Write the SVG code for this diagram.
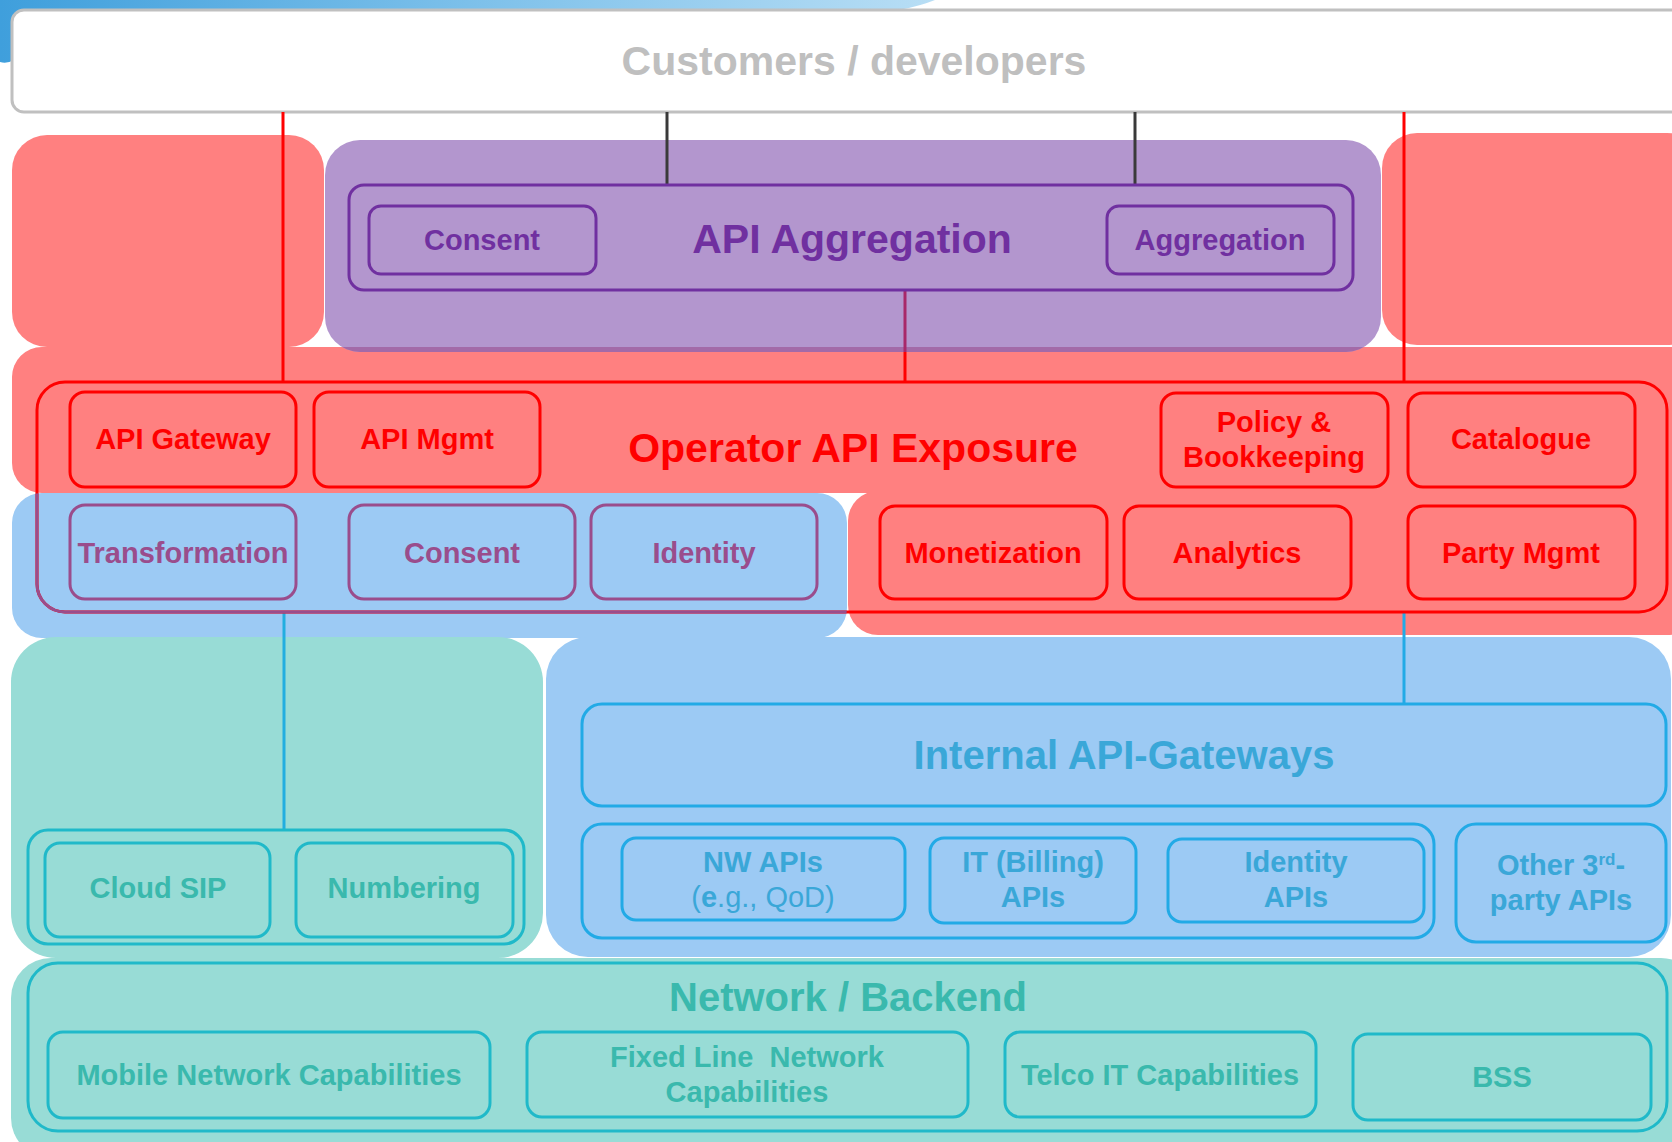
<svg xmlns="http://www.w3.org/2000/svg" width="1672" height="1142" viewBox="0 0 1672 1142">
<defs>
<linearGradient id="glow" x1="0" y1="0" x2="1" y2="0">
<stop offset="0" stop-color="#3f9fdc"/>
<stop offset="0.5" stop-color="#7cc0ea"/>
<stop offset="1" stop-color="#b8def5"/>
</linearGradient>
<clipPath id="blueArea"><rect x="12" y="493" width="835" height="145" rx="30"/></clipPath>
<clipPath id="purpleArea"><rect x="325" y="140" width="1056" height="212" rx="35"/></clipPath>
<style>
text{font-family:"Liberation Sans",Arial,sans-serif;font-weight:bold;text-anchor:middle}
.lbl{font-size:29px}
.title{font-size:41px}
.bg-red{fill:#ff8080}
.bg-purple{fill:#b396ce}
.bg-blue{fill:#9ccaf4}
.bg-teal{fill:#98dcd6}
.box{fill:none;stroke-width:3}
.red{stroke:#ff0000}
.tred{fill:#ff0000}
.pur{stroke:#7030a0}
.tpur{fill:#7030a0}
.mauve{stroke:#9a4d8c}
.tmauve{fill:#9a4d8c}
.teal{stroke:#20b9c9}
.tteal{fill:#3ab9ad}
.blue{stroke:#22aae6}
.tblue{fill:#3aa7d8}
</style>
</defs>

<g id="backgrounds">
<path d="M0 0 H935 Q905 12 860 14 H14 V60 Q7 64 0 62 Z" fill="url(#glow)"/>
<rect class="bg-red" x="12" y="135" width="312" height="212" rx="35"/>
<rect class="bg-red" x="1382" y="133" width="320" height="212" rx="35"/>
<rect class="bg-red" x="12" y="347" width="1690" height="146" rx="30"/>
<rect class="bg-purple" x="325" y="140" width="1056" height="212" rx="35"/>
<rect x="325" y="347" width="1056" height="6" fill="#a36aa8" clip-path="url(#purpleArea)"/>
<rect class="bg-red" x="848" y="491" width="850" height="144" rx="30"/>
<rect class="bg-blue" x="12" y="493" width="835" height="145" rx="30"/>
<rect class="bg-teal" x="11" y="637" width="532" height="321" rx="45"/>
<rect class="bg-blue" x="546" y="637" width="1125" height="320" rx="42"/>
<rect class="bg-teal" x="11" y="958" width="1690" height="200" rx="40"/>
</g>

<g id="customers">
<rect x="12" y="10" width="1700" height="102" rx="12" fill="#ffffff" stroke="#c0c0c0" stroke-width="3"/>
<text x="854" y="75" style="font-size:41px" fill="#bfbfbf">Customers / developers</text>
</g>

<g id="connectors" fill="none" stroke-width="3">
<line x1="283" y1="112" x2="283" y2="382" stroke="#ff0000"/>
<line x1="1404" y1="112" x2="1404" y2="382" stroke="#ff0000"/>
<line x1="667" y1="112" x2="667" y2="185" stroke="#3a3a3a"/>
<line x1="1135" y1="112" x2="1135" y2="185" stroke="#3a3a3a"/>
<line x1="905" y1="290" x2="905" y2="352" stroke="#a8286a"/>
<line x1="905" y1="352" x2="905" y2="382" stroke="#ff0000"/>
<line x1="284" y1="612" x2="284" y2="830" stroke="#22aee0"/>
<line x1="1404" y1="612" x2="1404" y2="704" stroke="#22aae6"/>
</g>

<g id="api-aggregation">
<rect class="box pur" x="349" y="185" width="1004" height="105" rx="15" stroke-width="3.5"/>
<text class="title tpur" x="852" y="253">API Aggregation</text>
</g>
<g id="agg-consent">
<rect class="box pur" x="369" y="206" width="227" height="68" rx="12"/>
<text class="lbl tpur" x="482" y="250">Consent</text>
</g>
<g id="agg-aggregation">
<rect class="box pur" x="1107" y="206" width="227" height="68" rx="12"/>
<text class="lbl tpur" x="1220" y="250">Aggregation</text>
</g>

<g id="operator-api-exposure">
<rect class="box red" x="37" y="382" width="1630" height="230" rx="28" stroke-width="3.5"/>
<rect class="box mauve" x="37" y="382" width="1630" height="230" rx="28" stroke-width="3.5" clip-path="url(#blueArea)"/>
<text class="title tred" x="853" y="462">Operator API Exposure</text>
</g>
<g id="api-gateway">
<rect class="box red" x="70" y="392" width="226" height="95" rx="15"/>
<text class="lbl tred" x="183" y="449">API Gateway</text>
</g>
<g id="api-mgmt">
<rect class="box red" x="314" y="392" width="226" height="95" rx="15"/>
<text class="lbl tred" x="427" y="449">API Mgmt</text>
</g>
<g id="policy">
<rect class="box red" x="1161" y="393" width="227" height="94" rx="15"/>
<text class="lbl tred" x="1274" y="432">Policy &amp;</text>
<text class="lbl tred" x="1274" y="467">Bookkeeping</text>
</g>
<g id="catalogue">
<rect class="box red" x="1408" y="393" width="227" height="94" rx="15"/>
<text class="lbl tred" x="1521" y="449">Catalogue</text>
</g>
<g id="transformation">
<rect class="box mauve" x="70" y="505" width="226" height="94" rx="15"/>
<text class="lbl tmauve" x="183" y="563">Transformation</text>
</g>
<g id="op-consent">
<rect class="box mauve" x="349" y="505" width="226" height="94" rx="15"/>
<text class="lbl tmauve" x="462" y="563">Consent</text>
</g>
<g id="identity">
<rect class="box mauve" x="591" y="505" width="226" height="94" rx="15"/>
<text class="lbl tmauve" x="704" y="563">Identity</text>
</g>
<g id="monetization">
<rect class="box red" x="880" y="506" width="227" height="93" rx="15"/>
<text class="lbl tred" x="993" y="563">Monetization</text>
</g>
<g id="analytics">
<rect class="box red" x="1124" y="506" width="227" height="93" rx="15"/>
<text class="lbl tred" x="1237" y="563">Analytics</text>
</g>
<g id="party-mgmt">
<rect class="box red" x="1408" y="506" width="227" height="93" rx="15"/>
<text class="lbl tred" x="1521" y="563">Party Mgmt</text>
</g>

<g id="cloud-group">
<rect class="box teal" x="28" y="830" width="496" height="114" rx="20"/>
</g>
<g id="cloud-sip">
<rect class="box teal" x="45" y="843" width="225" height="94" rx="15"/>
<text class="lbl tteal" x="158" y="898">Cloud SIP</text>
</g>
<g id="numbering">
<rect class="box teal" x="296" y="843" width="217" height="94" rx="15"/>
<text class="lbl tteal" x="404" y="898">Numbering</text>
</g>

<g id="internal-api-gateways">
<rect class="box blue" x="582" y="704" width="1084" height="102" rx="20"/>
<text class="tblue" x="1124" y="769" style="font-size:40px">Internal API-Gateways</text>
</g>
<g id="apis-group">
<rect class="box blue" x="582" y="824" width="852" height="114" rx="20"/>
</g>
<g id="nw-apis">
<rect class="box blue" x="622" y="838" width="283" height="82" rx="14"/>
<text class="lbl tblue" x="763" y="872">NW APIs</text>
<text class="lbl tblue" x="763" y="907" style="font-weight:normal">(<tspan style="font-weight:bold">e</tspan>.g., QoD)</text>
</g>
<g id="it-billing-apis">
<rect class="box blue" x="930" y="838" width="206" height="85" rx="14"/>
<text class="lbl tblue" x="1033" y="872">IT (Billing)</text>
<text class="lbl tblue" x="1033" y="907">APIs</text>
</g>
<g id="identity-apis">
<rect class="box blue" x="1168" y="839" width="256" height="83" rx="14"/>
<text class="lbl tblue" x="1296" y="872">Identity</text>
<text class="lbl tblue" x="1296" y="907">APIs</text>
</g>
<g id="other-apis">
<rect class="box blue" x="1456" y="824" width="210" height="118" rx="20"/>
<text class="lbl tblue" x="1561" y="875">Other 3<tspan style="font-size:17px" dy="-10">rd</tspan><tspan dy="10">-</tspan></text>
<text class="lbl tblue" x="1561" y="910">party APIs</text>
</g>

<g id="network-backend">
<rect class="box teal" x="28" y="963" width="1639" height="168" rx="30"/>
<text class="tteal" x="848" y="1011" style="font-size:40px">Network / Backend</text>
</g>
<g id="mobile">
<rect class="box teal" x="48" y="1032" width="442" height="86" rx="15"/>
<text class="lbl tteal" x="269" y="1085">Mobile Network Capabilities</text>
</g>
<g id="fixed-line">
<rect class="box teal" x="527" y="1032" width="441" height="85" rx="15"/>
<text class="lbl tteal" x="747" y="1067" xml:space="preserve">Fixed Line  Network</text>
<text class="lbl tteal" x="747" y="1102">Capabilities</text>
</g>
<g id="telco-it">
<rect class="box teal" x="1005" y="1032" width="311" height="85" rx="15"/>
<text class="lbl tteal" x="1160" y="1085">Telco IT Capabilities</text>
</g>
<g id="bss">
<rect class="box teal" x="1353" y="1034" width="298" height="86" rx="15"/>
<text class="lbl tteal" x="1502" y="1087">BSS</text>
</g>
</svg>
